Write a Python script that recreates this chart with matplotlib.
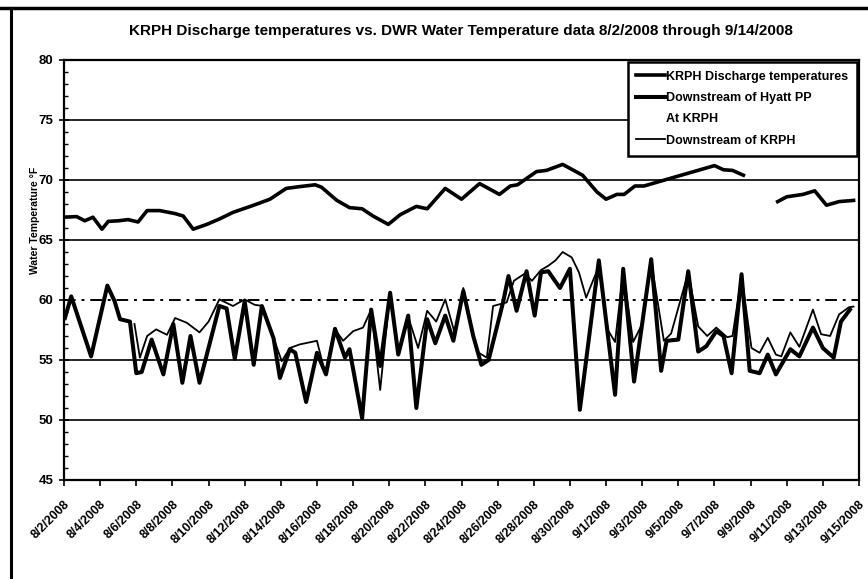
#! /usr/bin/env python3
import numpy as np
import pandas as pd
import matplotlib
matplotlib.use("Agg")
import matplotlib.pyplot as plt
from matplotlib.lines import Line2D

# dias desde 8/2/2008 y temperaturas (°F)
krph_dias = [0.0, 0.7, 1.15, 1.6, 2.1, 2.45, 3.0, 3.55, 4.1, 4.6, 5.3, 6.15, 6.6, 7.15,
             7.9, 8.6, 9.35, 10.5, 11.4, 12.3, 13.05, 13.9, 14.25, 15.1, 15.8, 16.5,
             17.1, 17.95, 18.6, 19.5, 20.1, 21.1, 22.0, 23.0, 24.1, 24.7, 25.1, 26.15,
             26.7, 27.6, 28.7, 29.5, 30.0, 30.6, 31.0, 31.6, 32.1, 33.7, 35.2, 36.0,
             36.5, 37.0, 37.6, 38.5, 39.5, 40.0, 40.9, 41.55, 42.2, 42.9, 43.7]
krph_temp = [66.9, 66.95, 66.6, 66.9, 65.9, 66.55, 66.6, 66.7, 66.5, 67.45, 67.45, 67.2,
             67.0, 65.9, 66.3, 66.75, 67.3, 67.9, 68.4, 69.3, 69.45, 69.6, 69.4, 68.3,
             67.7, 67.6, 67.0, 66.3, 67.1, 67.8, 67.6, 69.3, 68.4, 69.7, 68.8, 69.5,
             69.6, 70.7, 70.8, 71.3, 70.4, 69.0, 68.4, 68.8, 68.8, 69.5, 69.5, 70.2,
             70.85, 71.2, 70.85, 70.8, 70.4, np.nan, 68.2, 68.6, 68.8, 69.1, 67.9, 68.2,
             68.3]

hyatt_dias = [0.05, 0.4, 1.5, 2.4, 2.8, 3.1, 3.65, 4.0, 4.3, 4.85, 5.5, 6.05, 6.55, 7.0,
              7.5, 8.6, 9.0, 9.45, 10.0, 10.5, 10.95, 11.6, 11.95, 12.5, 12.8, 13.4,
              14.0, 14.5, 15.0, 15.55, 15.8, 16.5, 17.0, 17.5, 18.05, 18.5, 19.05, 19.5,
              20.1, 20.55, 21.1, 21.55, 22.1, 22.65, 23.1, 23.5, 24.3, 24.6, 25.05, 25.6,
              26.05, 26.4, 26.8, 27.45, 28.0, 28.55, 29.6, 30.5, 30.95, 31.55, 32.5,
              33.05, 33.35, 34.0, 34.55, 35.1, 35.55, 36.1, 36.5, 36.95, 37.5, 37.95,
              38.5, 38.95, 39.4, 40.2, 40.7, 41.45, 42.0, 42.6, 43.0, 43.5]
hyatt_temp = [58.5, 60.3, 55.3, 61.2, 59.9, 58.4, 58.2, 53.9, 54.0, 56.7, 53.8, 58.0,
              53.1, 57.0, 53.1, 59.5, 59.3, 55.1, 59.9, 54.6, 59.5, 56.8, 53.5, 55.9,
              55.6, 51.5, 55.6, 53.8, 57.6, 55.2, 55.9, 50.15, 59.2, 54.5, 60.6, 55.45,
              58.7, 51.0, 58.4, 56.4, 58.7, 56.6, 60.75, 57.0, 54.6, 55.0, 59.8, 62.0,
              59.1, 62.4, 58.7, 62.3, 62.4, 61.0, 62.6, 50.85, 63.3, 52.1, 62.6, 53.2,
              63.4, 54.1, 56.6, 56.7, 62.4, 55.7, 56.15, 57.4, 57.0, 53.9, 62.15, 54.1,
              53.9, 55.45, 53.8, 55.9, 55.3, 57.7, 56.0, 55.2, 58.2, 59.2]

abajo_dias = [3.9, 4.2, 4.6, 5.1, 5.7, 6.15, 6.8, 7.5, 8.0, 8.6, 9.35, 10.0, 10.55, 11.0,
              11.4, 12.05, 12.5, 13.05, 14.0, 14.45, 15.0, 15.45, 16.0, 16.55, 17.0,
              17.5, 18.05, 18.5, 19.05, 19.6, 20.1, 20.6, 21.1, 21.65, 22.1, 22.55,
              22.85, 23.4, 23.75, 24.5, 24.9, 25.5, 25.9, 26.4, 26.8, 27.2, 27.6, 28.1,
              28.5, 28.9, 29.3, 29.6, 30.1, 30.5, 30.95, 31.5, 32.0, 32.5, 33.2, 33.6,
              34.0, 34.55, 35.1, 35.6, 36.1, 36.7, 37.0, 37.5, 38.05, 38.5, 38.95, 39.4,
              39.7, 40.2, 40.7, 41.45, 41.9, 42.4, 42.9, 43.45, 43.7]
abajo_temp = [58.0, 55.2, 57.0, 57.55, 57.1, 58.5, 58.1, 57.3, 58.2, 60.05, 59.5, 60.05,
              59.6, 59.5, 57.7, 54.9, 56.0, 56.3, 56.6, 53.9, 57.55, 56.6, 57.4, 57.7,
              59.2, 52.5, 60.7, 55.5, 58.6, 56.0, 59.1, 58.2, 60.05, 57.1, 61.0, 57.8,
              55.7, 55.2, 59.5, 59.8, 61.6, 62.2, 61.6, 62.5, 62.85, 63.3, 64.0, 63.55,
              62.3, 60.2, 61.7, 62.8, 57.5, 56.5, 62.4, 56.5, 58.0, 63.2, 56.6, 57.2,
              59.35, 62.3, 57.8, 57.0, 57.7, 56.9, 57.0, 62.0, 56.0, 55.6, 56.85, 55.45,
              55.3, 57.3, 56.1, 59.2, 57.15, 57.0, 58.8, 59.4, 59.45]

inicio = pd.Timestamp("2008-08-02")
fechas_ticks = pd.date_range("2008-08-02", "2008-09-15", freq="2D")
etiquetas = [f"{f.month}/{f.day}/{f.year}" for f in fechas_ticks]
y_ticks = [45, 50, 55, 60, 65, 70, 75, 80]


def a_fechas(dias):
    return inicio + pd.to_timedelta(dias, unit="D")


plt.rcParams["font.family"] = ["Liberation Sans", "DejaVu Sans"]
plt.rcParams["font.weight"] = "bold"

fig = plt.figure(figsize=(8.68, 5.79), dpi=100)
ax = fig.add_axes([64 / 868, 1 - 480 / 579, 795 / 868, 420 / 579])

# marco del escaneo: solo arriba y a la izquierda
fig.add_artist(Line2D([0, 1], [1 - 8 / 579, 1 - 8 / 579], transform=fig.transFigure,
                      color="black", linewidth=2.5))
fig.add_artist(Line2D([11 / 868, 11 / 868], [0, 1 - 8 / 579], transform=fig.transFigure,
                      color="black", linewidth=2.2))

for y in [50, 55, 65, 70, 75]:
    ax.axhline(y, color="black", linewidth=1.2, zorder=1)
ax.axhline(60, color="black", linewidth=1.4, linestyle=(0, (6, 3, 1.5, 3)), zorder=1)

l1, = ax.plot(a_fechas(krph_dias), krph_temp, color="black", linewidth=2.6,
              label="KRPH Discharge temperatures", zorder=3)
l2, = ax.plot(a_fechas(hyatt_dias), hyatt_temp, color="black", linewidth=2.9,
              label="Downstream of Hyatt PP", zorder=3)
l3, = ax.plot([], [], linestyle="none", label="At KRPH")
l4, = ax.plot(a_fechas(abajo_dias), abajo_temp, color="black", linewidth=1.3,
              label="Downstream of KRPH", zorder=2)

ax.set_xlim(inicio, pd.Timestamp("2008-09-15"))
ax.set_ylim(45, 80)
ax.set_yticks(y_ticks)
ax.set_yticks(np.arange(45, 80, 1), minor=True)
ax.tick_params(axis="y", which="major", direction="inout", length=7, width=1.2,
               labelsize=9.5, pad=4)
ax.tick_params(axis="y", which="minor", direction="in", length=3, width=1)
ax.set_xticks(fechas_ticks)
ax.set_xticklabels(etiquetas, rotation=45, ha="right", va="top",
                   rotation_mode="anchor", fontsize=9, fontweight="bold")
ax.tick_params(axis="x", direction="out", length=4, width=1.2, pad=9)
for s in ax.spines.values():
    s.set_linewidth(1.6)

fig.text(461 / 868, 1 - 31 / 579,
         "KRPH Discharge temperatures vs. DWR Water Temperature data 8/2/2008 through 9/14/2008",
         ha="center", va="center", fontsize=11, fontweight="bold")
fig.text(35 / 868, 1 - 220 / 579, "Water Temperature °F", rotation=90,
         ha="center", va="center", fontsize=7.5, fontweight="bold")

leg = ax.legend(handles=[l1, l2, l3, l4], loc="upper right", fontsize=9,
                frameon=True, fancybox=False, edgecolor="black", framealpha=1,
                handlelength=2.3, handletextpad=0.1, labelspacing=0.75,
                borderaxespad=0.15, borderpad=0.7)
leg.get_frame().set_linewidth(1.8)

fig.savefig("out.png", dpi=100)
